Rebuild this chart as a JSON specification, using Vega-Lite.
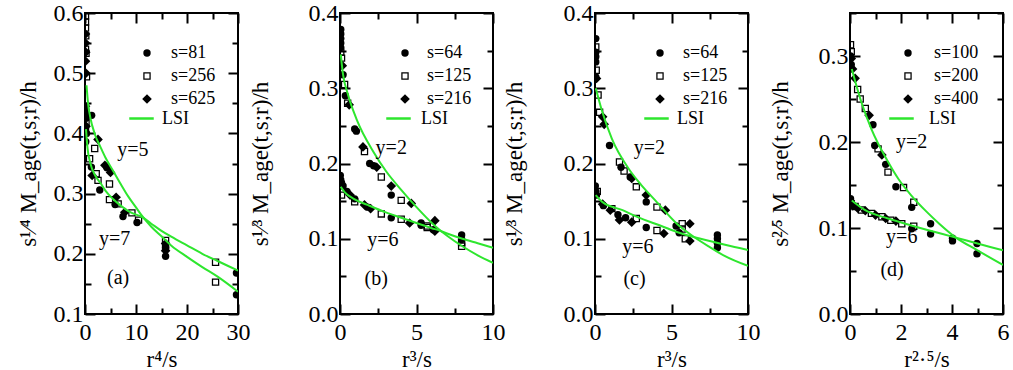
{
"$schema":"https://vega.github.io/schema/vega-lite/v6.json",
"background":"white",
"padding":{"left":16,"top":0,"right":0,"bottom":0},
"spacing":102,
"bounds":"flush",
"config":{
 "view":{"stroke":"black","strokeWidth":2},
 "style":{"guide-label":{"font":"Liberation Serif"},"guide-title":{"font":"Liberation Serif"}},
 "axis":{"labelFont":"Liberation Serif","titleFont":"Liberation Serif","labelFontSize":24,"titleFontSize":23,"titleFontWeight":"normal","labelColor":"black","titleColor":"black","tickColor":"black","tickWidth":2,"domain":false,"grid":false,"labelOverlap":false,"labelFlush":false},
 "legend":{"labelFont":"Liberation Serif","labelFontSize":18,"labelColor":"black","padding":0,"rowPadding":5,"title":null}
},
"datasets":{
 "pa":[
  {"x":0.1,"y":0.595,"s":"s=256"},{"x":0.1,"y":0.585,"s":"s=256"},{"x":0.1,"y":0.575,"s":"s=256"},{"x":0.15,"y":0.562,"s":"s=256"},{"x":0.1,"y":0.54,"s":"s=256"},{"x":0.2,"y":0.533,"s":"s=256"},{"x":0.3,"y":0.494,"s":"s=256"},{"x":0.1,"y":0.435,"s":"s=256"},{"x":0.2,"y":0.418,"s":"s=256"},{"x":0.1,"y":0.405,"s":"s=256"},{"x":0.9,"y":0.358,"s":"s=256"},{"x":1.9,"y":0.375,"s":"s=256"},{"x":2.2,"y":0.333,"s":"s=256"},{"x":2.55,"y":0.322,"s":"s=256"},{"x":4.8,"y":0.316,"s":"s=256"},{"x":4.8,"y":0.29,"s":"s=256"},{"x":6.5,"y":0.283,"s":"s=256"},{"x":9.2,"y":0.268,"s":"s=256"},{"x":10.5,"y":0.256,"s":"s=256"},{"x":15.8,"y":0.222,"s":"s=256"},{"x":15.8,"y":0.213,"s":"s=256"},{"x":25.6,"y":0.186,"s":"s=256"},{"x":25.6,"y":0.153,"s":"s=256"},
  {"x":0.1,"y":0.44,"s":"s=81"},{"x":0.2,"y":0.425,"s":"s=81"},{"x":0.1,"y":0.41,"s":"s=81"},{"x":0.3,"y":0.4,"s":"s=81"},{"x":0.15,"y":0.386,"s":"s=81"},{"x":1.3,"y":0.43,"s":"s=81"},{"x":1.25,"y":0.344,"s":"s=81"},{"x":2.9,"y":0.306,"s":"s=81"},{"x":4.3,"y":0.343,"s":"s=81"},{"x":5.9,"y":0.282,"s":"s=81"},{"x":7.45,"y":0.262,"s":"s=81"},{"x":10.2,"y":0.252,"s":"s=81"},{"x":15.8,"y":0.196,"s":"s=81"},{"x":15.8,"y":0.21,"s":"s=81"},{"x":29.7,"y":0.168,"s":"s=81"},{"x":29.7,"y":0.132,"s":"s=81"},
  {"x":0.1,"y":0.565,"s":"s=625"},{"x":0.1,"y":0.55,"s":"s=625"},{"x":0.15,"y":0.535,"s":"s=625"},{"x":0.1,"y":0.52,"s":"s=625"},{"x":0.2,"y":0.5,"s":"s=625"},{"x":0.1,"y":0.445,"s":"s=625"},{"x":0.25,"y":0.43,"s":"s=625"},{"x":0.2,"y":0.412,"s":"s=625"},{"x":2.55,"y":0.39,"s":"s=625"},{"x":1.4,"y":0.33,"s":"s=625"},{"x":3.9,"y":0.347,"s":"s=625"},{"x":5.0,"y":0.335,"s":"s=625"},{"x":6.1,"y":0.294,"s":"s=625"},{"x":7.8,"y":0.269,"s":"s=625"},{"x":15.8,"y":0.217,"s":"s=625"},{"x":15.8,"y":0.205,"s":"s=625"}
 ],
 "ca":[
  {"c":"y5","x":0.3,"y":0.48},{"c":"y5","x":0.6,"y":0.45},{"c":"y5","x":1,"y":0.428},{"c":"y5","x":2,"y":0.397},{"c":"y5","x":3,"y":0.378},{"c":"y5","x":4,"y":0.36},{"c":"y5","x":5.5,"y":0.338},{"c":"y5","x":7,"y":0.316},{"c":"y5","x":8.5,"y":0.295},{"c":"y5","x":10,"y":0.277},{"c":"y5","x":11,"y":0.265},{"c":"y5","x":13,"y":0.245},{"c":"y5","x":15,"y":0.229},{"c":"y5","x":17,"y":0.213},{"c":"y5","x":20,"y":0.195},{"c":"y5","x":23,"y":0.178},{"c":"y5","x":26,"y":0.162},{"c":"y5","x":30,"y":0.137},
  {"c":"y7","x":0.2,"y":0.407},{"c":"y7","x":0.5,"y":0.375},{"c":"y7","x":1,"y":0.352},{"c":"y7","x":2,"y":0.33},{"c":"y7","x":3,"y":0.318},{"c":"y7","x":4,"y":0.305},{"c":"y7","x":5.5,"y":0.291},{"c":"y7","x":7,"y":0.28},{"c":"y7","x":8.5,"y":0.271},{"c":"y7","x":10,"y":0.265},{"c":"y7","x":11,"y":0.262},{"c":"y7","x":13,"y":0.25},{"c":"y7","x":15,"y":0.238},{"c":"y7","x":17,"y":0.228},{"c":"y7","x":20,"y":0.214},{"c":"y7","x":23,"y":0.2},{"c":"y7","x":26,"y":0.188},{"c":"y7","x":30,"y":0.172}
 ],
 "ta":[{"x":9.4,"y":0.372,"t":"y=5"},{"x":5.8,"y":0.225,"t":"y=7"},{"x":6.5,"y":0.159,"t":"(a)"}],
 "pb":[
  {"x":0.05,"y":0.348,"s":"s=125"},{"x":0.1,"y":0.34,"s":"s=125"},{"x":0.3,"y":0.305,"s":"s=125"},{"x":0.5,"y":0.28,"s":"s=125"},{"x":1.6,"y":0.216,"s":"s=125"},{"x":2.7,"y":0.182,"s":"s=125"},{"x":4.0,"y":0.151,"s":"s=125"},{"x":5.7,"y":0.117,"s":"s=125"},{"x":7.95,"y":0.095,"s":"s=125"},{"x":7.95,"y":0.09,"s":"s=125"},{"x":0.1,"y":0.158,"s":"s=125"},{"x":0.96,"y":0.149,"s":"s=125"},{"x":2.7,"y":0.133,"s":"s=125"},{"x":4.0,"y":0.126,"s":"s=125"},{"x":5.7,"y":0.115,"s":"s=125"},
  {"x":0.05,"y":0.378,"s":"s=64"},{"x":0.05,"y":0.372,"s":"s=64"},{"x":0.05,"y":0.366,"s":"s=64"},{"x":0.05,"y":0.36,"s":"s=64"},{"x":0.05,"y":0.354,"s":"s=64"},{"x":0.2,"y":0.318,"s":"s=64"},{"x":0.35,"y":0.29,"s":"s=64"},{"x":0.96,"y":0.246,"s":"s=64"},{"x":1.07,"y":0.243,"s":"s=64"},{"x":1.94,"y":0.2,"s":"s=64"},{"x":2.2,"y":0.197,"s":"s=64"},{"x":3.35,"y":0.158,"s":"s=64"},{"x":5.3,"y":0.121,"s":"s=64"},{"x":6.1,"y":0.112,"s":"s=64"},{"x":7.95,"y":0.105,"s":"s=64"},{"x":7.95,"y":0.099,"s":"s=64"},{"x":0.02,"y":0.184,"s":"s=64"},{"x":0.05,"y":0.178,"s":"s=64"},{"x":0.1,"y":0.174,"s":"s=64"},{"x":0.2,"y":0.17,"s":"s=64"},{"x":0.45,"y":0.163,"s":"s=64"},{"x":0.96,"y":0.153,"s":"s=64"},{"x":1.8,"y":0.142,"s":"s=64"},{"x":3.35,"y":0.128,"s":"s=64"},{"x":5.3,"y":0.118,"s":"s=64"},
  {"x":0.15,"y":0.33,"s":"s=216"},{"x":0.6,"y":0.278,"s":"s=216"},{"x":1.5,"y":0.222,"s":"s=216"},{"x":2.4,"y":0.195,"s":"s=216"},{"x":3.35,"y":0.17,"s":"s=216"},{"x":4.66,"y":0.147,"s":"s=216"},{"x":6.2,"y":0.124,"s":"s=216"},{"x":0.66,"y":0.158,"s":"s=216"},{"x":1.6,"y":0.145,"s":"s=216"},{"x":2.0,"y":0.14,"s":"s=216"},{"x":4.55,"y":0.121,"s":"s=216"},{"x":6.2,"y":0.11,"s":"s=216"}
 ],
 "cb":[
  {"c":"y2","x":0.05,"y":0.345},{"c":"y2","x":0.2,"y":0.318},{"c":"y2","x":0.5,"y":0.293},{"c":"y2","x":1.1,"y":0.258},{"c":"y2","x":2.2,"y":0.215},{"c":"y2","x":3,"y":0.19},{"c":"y2","x":4,"y":0.165},{"c":"y2","x":5,"y":0.142},{"c":"y2","x":6,"y":0.121},{"c":"y2","x":6.5,"y":0.112},{"c":"y2","x":7,"y":0.104},{"c":"y2","x":8,"y":0.09},{"c":"y2","x":9,"y":0.078},{"c":"y2","x":10,"y":0.068},
  {"c":"y6","x":0.05,"y":0.169},{"c":"y6","x":0.3,"y":0.162},{"c":"y6","x":0.9,"y":0.153},{"c":"y6","x":1.8,"y":0.145},{"c":"y6","x":3,"y":0.135},{"c":"y6","x":4,"y":0.128},{"c":"y6","x":5,"y":0.121},{"c":"y6","x":6,"y":0.114},{"c":"y6","x":6.5,"y":0.111},{"c":"y6","x":7,"y":0.107},{"c":"y6","x":8,"y":0.1},{"c":"y6","x":9,"y":0.094},{"c":"y6","x":10,"y":0.088}
 ],
 "tb":[{"x":3.35,"y":0.22,"t":"y=2"},{"x":2.8,"y":0.098,"t":"y=6"},{"x":2.37,"y":0.047,"t":"(b)"}],
 "pc":[
  {"x":0.05,"y":0.355,"s":"s=125"},{"x":0.08,"y":0.324,"s":"s=125"},{"x":0.2,"y":0.291,"s":"s=125"},{"x":0.3,"y":0.268,"s":"s=125"},{"x":1.6,"y":0.202,"s":"s=125"},{"x":1.9,"y":0.19,"s":"s=125"},{"x":2.7,"y":0.169,"s":"s=125"},{"x":4.05,"y":0.142,"s":"s=125"},{"x":5.7,"y":0.12,"s":"s=125"},{"x":5.9,"y":0.1,"s":"s=125"},{"x":0.15,"y":0.163,"s":"s=125"},{"x":1.1,"y":0.14,"s":"s=125"},{"x":2.7,"y":0.127,"s":"s=125"},{"x":4.05,"y":0.111,"s":"s=125"},{"x":5.7,"y":0.113,"s":"s=125"},
  {"x":0.05,"y":0.366,"s":"s=64"},{"x":0.05,"y":0.348,"s":"s=64"},{"x":0.05,"y":0.342,"s":"s=64"},{"x":0.05,"y":0.335,"s":"s=64"},{"x":0.05,"y":0.315,"s":"s=64"},{"x":0.95,"y":0.224,"s":"s=64"},{"x":1.7,"y":0.195,"s":"s=64"},{"x":2.3,"y":0.182,"s":"s=64"},{"x":3.35,"y":0.149,"s":"s=64"},{"x":5.3,"y":0.117,"s":"s=64"},{"x":5.5,"y":0.108,"s":"s=64"},{"x":8.0,"y":0.105,"s":"s=64"},{"x":8.0,"y":0.1,"s":"s=64"},{"x":8.0,"y":0.094,"s":"s=64"},{"x":8.0,"y":0.088,"s":"s=64"},{"x":0.02,"y":0.17,"s":"s=64"},{"x":0.05,"y":0.163,"s":"s=64"},{"x":0.1,"y":0.158,"s":"s=64"},{"x":0.55,"y":0.144,"s":"s=64"},{"x":1.5,"y":0.132,"s":"s=64"},{"x":2.0,"y":0.128,"s":"s=64"},{"x":3.35,"y":0.115,"s":"s=64"},
  {"x":0.1,"y":0.313,"s":"s=216"},{"x":0.5,"y":0.262,"s":"s=216"},{"x":0.6,"y":0.252,"s":"s=216"},{"x":2.4,"y":0.18,"s":"s=216"},{"x":3.35,"y":0.158,"s":"s=216"},{"x":4.6,"y":0.138,"s":"s=216"},{"x":6.2,"y":0.12,"s":"s=216"},{"x":0.5,"y":0.146,"s":"s=216"},{"x":1.0,"y":0.138,"s":"s=216"},{"x":1.6,"y":0.125,"s":"s=216"},{"x":2.4,"y":0.122,"s":"s=216"},{"x":4.5,"y":0.107,"s":"s=216"},{"x":6.2,"y":0.097,"s":"s=216"}
 ],
 "cc":[
  {"c":"y2","x":0.05,"y":0.3},{"c":"y2","x":0.47,"y":0.269},{"c":"y2","x":1.1,"y":0.233},{"c":"y2","x":2.2,"y":0.193},{"c":"y2","x":3,"y":0.172},{"c":"y2","x":3.94,"y":0.151},{"c":"y2","x":5.35,"y":0.12},{"c":"y2","x":6.5,"y":0.102},{"c":"y2","x":7.5,"y":0.089},{"c":"y2","x":8.5,"y":0.077},{"c":"y2","x":10,"y":0.064},
  {"c":"y6","x":0.05,"y":0.158},{"c":"y6","x":0.47,"y":0.149},{"c":"y6","x":1.8,"y":0.138},{"c":"y6","x":3,"y":0.127},{"c":"y6","x":3.94,"y":0.12},{"c":"y6","x":5.35,"y":0.109},{"c":"y6","x":6.5,"y":0.102},{"c":"y6","x":7.5,"y":0.097},{"c":"y6","x":8.5,"y":0.092},{"c":"y6","x":10,"y":0.085}
 ],
 "tc":[{"x":3.55,"y":0.22,"t":"y=2"},{"x":2.8,"y":0.089,"t":"y=6"},{"x":2.58,"y":0.047,"t":"(c)"}],
 "pd":[
  {"x":0.02,"y":0.313,"s":"s=200"},{"x":0.05,"y":0.305,"s":"s=200"},{"x":0.3,"y":0.261,"s":"s=200"},{"x":0.4,"y":0.25,"s":"s=200"},{"x":0.6,"y":0.239,"s":"s=200"},{"x":1.1,"y":0.192,"s":"s=200"},{"x":1.49,"y":0.165,"s":"s=200"},{"x":2.1,"y":0.147,"s":"s=200"},{"x":2.5,"y":0.13,"s":"s=200"},{"x":0.05,"y":0.128,"s":"s=200"},{"x":0.2,"y":0.125,"s":"s=200"},{"x":0.45,"y":0.121,"s":"s=200"},{"x":0.84,"y":0.117,"s":"s=200"},{"x":1.25,"y":0.113,"s":"s=200"},{"x":1.6,"y":0.109,"s":"s=200"},{"x":2.03,"y":0.105,"s":"s=200"},{"x":2.5,"y":0.102,"s":"s=200"},
  {"x":0.02,"y":0.3,"s":"s=100"},{"x":0.05,"y":0.29,"s":"s=100"},{"x":0.9,"y":0.22,"s":"s=100"},{"x":0.97,"y":0.196,"s":"s=100"},{"x":1.4,"y":0.174,"s":"s=100"},{"x":1.8,"y":0.148,"s":"s=100"},{"x":2.42,"y":0.124,"s":"s=100"},{"x":3.16,"y":0.105,"s":"s=100"},{"x":4.02,"y":0.088,"s":"s=100"},{"x":4.98,"y":0.07,"s":"s=100"},{"x":0.02,"y":0.134,"s":"s=100"},{"x":0.05,"y":0.13,"s":"s=100"},{"x":0.1,"y":0.127,"s":"s=100"},{"x":2.42,"y":0.099,"s":"s=100"},{"x":3.16,"y":0.093,"s":"s=100"},{"x":4.02,"y":0.085,"s":"s=100"},{"x":4.98,"y":0.082,"s":"s=100"},
  {"x":0.05,"y":0.297,"s":"s=400"},{"x":0.1,"y":0.285,"s":"s=400"},{"x":0.2,"y":0.274,"s":"s=400"},{"x":0.75,"y":0.231,"s":"s=400"},{"x":1.25,"y":0.185,"s":"s=400"},{"x":0.1,"y":0.126,"s":"s=400"},{"x":0.3,"y":0.123,"s":"s=400"},{"x":0.6,"y":0.12,"s":"s=400"},{"x":1.0,"y":0.115,"s":"s=400"},{"x":1.4,"y":0.111,"s":"s=400"},{"x":1.8,"y":0.108,"s":"s=400"}
 ],
 "cd":[
  {"c":"y2","x":0.07,"y":0.285},{"c":"y2","x":0.45,"y":0.246},{"c":"y2","x":0.84,"y":0.215},{"c":"y2","x":1.49,"y":0.177},{"c":"y2","x":1.9,"y":0.157},{"c":"y2","x":2.4,"y":0.138},{"c":"y2","x":3,"y":0.119},{"c":"y2","x":3.5,"y":0.105},{"c":"y2","x":4.1,"y":0.09},{"c":"y2","x":5,"y":0.074},{"c":"y2","x":6,"y":0.057},
  {"c":"y6","x":0.07,"y":0.132},{"c":"y6","x":0.58,"y":0.121},{"c":"y6","x":1.49,"y":0.111},{"c":"y6","x":2.4,"y":0.103},{"c":"y6","x":3,"y":0.098},{"c":"y6","x":4,"y":0.09},{"c":"y6","x":5,"y":0.082},{"c":"y6","x":6,"y":0.074}
 ],
 "td":[{"x":2.42,"y":0.2,"t":"y=2"},{"x":2.03,"y":0.09,"t":"y=6"},{"x":1.65,"y":0.051,"t":"(d)"}]
},
"hconcat":[
 {"width":153,"height":301,
  "layer":[
   {"data":{"name":"pa"},
    "mark":{"type":"point","filled":true,"color":"black","size":55,"opacity":1,"clip":true},
    "encoding":{
     "x":{"field":"x","type":"quantitative","scale":{"domain":[0,30],"nice":false,"zero":false},
          "axis":{"orient":"bottom","values":[0,5,10,15,20,25,30],"labelExpr":"datum.value % 10 == 0 ? datum.label : ''","tickSize":{"condition":{"test":"datum.value % 10 == 0","value":-10},"value":-6},"labelPadding":16,"title":"r⁴/s","titlePadding":0,"labelFont":"Liberation Serif","titleFont":"Liberation Serif"}},
     "y":{"field":"y","type":"quantitative","scale":{"domain":[0.1,0.6],"nice":false,"zero":false},
          "axis":{"orient":"left","values":[0.1,0.15,0.2,0.25,0.3,0.35,0.4,0.45,0.5,0.55,0.6],"format":".1f","labelExpr":"abs(datum.value*10 - round(datum.value*10)) < 0.001 ? datum.label : ''","tickSize":{"condition":{"test":"abs(datum.value*10 - round(datum.value*10)) < 0.001","value":-10},"value":-6},"labelPadding":12,"title":"s¹⁄⁴ M_age(t,s;r)/h","titlePadding":13,"labelFont":"Liberation Serif","titleFont":"Liberation Serif"}},
     "shape":{"field":"s","type":"nominal","scale":{"domain":["s=81","s=256","s=625"],"range":["circle","M-1,-1H1V1H-1Z M-0.66,-0.66V0.66H0.66V-0.66Z","M-1.3,0L0,-1.3L1.3,0L0,1.3Z"]},"legend":{"orient":"none","legendX":53,"legendY":31,"labelOffset":15,"labelFont":"Liberation Serif","symbolFillColor":"black","symbolStrokeWidth":0,"symbolSize":55}}
    }},
   {"data":{"name":"ca"},
    "mark":{"type":"line","strokeWidth":2,"interpolate":"monotone","clip":true},
    "encoding":{
     "x":{"field":"x","type":"quantitative","scale":{"domain":[0,30],"nice":false,"zero":false},
          "axis":{"orient":"top","values":[0,5,10,15,20,25,30],"labels":false,"title":null,"tickSize":{"condition":{"test":"datum.value % 10 == 0","value":-10},"value":-6}}},
     "y":{"field":"y","type":"quantitative","scale":{"domain":[0.1,0.6],"nice":false,"zero":false},
          "axis":{"orient":"right","values":[0.1,0.15,0.2,0.25,0.3,0.35,0.4,0.45,0.5,0.55,0.6],"labels":false,"title":null,"tickSize":{"condition":{"test":"abs(datum.value*10 - round(datum.value*10)) < 0.001","value":-10},"value":-6}}},
     "detail":{"field":"c"},
     "color":{"datum":"LSI","type":"nominal","scale":{"range":["#2ee62e"]},"legend":{"orient":"none","legendX":43,"legendY":92,"symbolType":"stroke","symbolSize":600,"symbolStrokeWidth":2.5,"labelOffset":7,"labelFont":"Liberation Serif"}}
    }},
   {"data":{"name":"ta"},
    "mark":{"type":"text","font":"Liberation Serif","fontSize":20,"color":"black"},
    "encoding":{
     "x":{"field":"x","type":"quantitative","scale":{"domain":[0,30],"nice":false,"zero":false},"axis":null},
     "y":{"field":"y","type":"quantitative","scale":{"domain":[0.1,0.6],"nice":false,"zero":false},"axis":null},
     "text":{"field":"t"}
    }}
  ],
  "resolve":{"axis":{"x":"independent","y":"independent"}}
 },
 {"width":153,"height":301,
  "layer":[
   {"data":{"name":"pb"},
    "mark":{"type":"point","filled":true,"color":"black","size":55,"opacity":1,"clip":true},
    "encoding":{
     "x":{"field":"x","type":"quantitative","scale":{"domain":[0,10],"nice":false,"zero":false},
          "axis":{"orient":"bottom","values":[0,2.5,5,7.5,10],"labelExpr":"datum.value % 5 == 0 ? datum.label : ''","tickSize":{"condition":{"test":"datum.value % 5 == 0","value":-10},"value":-6},"labelPadding":16,"title":"r³/s","titlePadding":0,"labelFont":"Liberation Serif","titleFont":"Liberation Serif"}},
     "y":{"field":"y","type":"quantitative","scale":{"domain":[0,0.4],"nice":false,"zero":false},
          "axis":{"orient":"left","values":[0,0.05,0.1,0.15,0.2,0.25,0.3,0.35,0.4],"format":".1f","labelExpr":"abs(datum.value*10 - round(datum.value*10)) < 0.001 ? datum.label : ''","tickSize":{"condition":{"test":"abs(datum.value*10 - round(datum.value*10)) < 0.001","value":-10},"value":-6},"labelPadding":12,"title":"s¹⁄³ M_age(t,s;r)/h","titlePadding":36,"labelFont":"Liberation Serif","titleFont":"Liberation Serif"}},
     "shape":{"field":"s","type":"nominal","scale":{"domain":["s=64","s=125","s=216"],"range":["circle","M-1,-1H1V1H-1Z M-0.66,-0.66V0.66H0.66V-0.66Z","M-1.3,0L0,-1.3L1.3,0L0,1.3Z"]},"legend":{"orient":"none","legendX":56,"legendY":31,"labelOffset":13,"labelFont":"Liberation Serif","symbolFillColor":"black","symbolStrokeWidth":0,"symbolSize":55}}
    }},
   {"data":{"name":"cb"},
    "mark":{"type":"line","strokeWidth":2,"interpolate":"monotone","clip":true},
    "encoding":{
     "x":{"field":"x","type":"quantitative","scale":{"domain":[0,10],"nice":false,"zero":false},
          "axis":{"orient":"top","values":[0,2.5,5,7.5,10],"labels":false,"title":null,"tickSize":{"condition":{"test":"datum.value % 5 == 0","value":-10},"value":-6}}},
     "y":{"field":"y","type":"quantitative","scale":{"domain":[0,0.4],"nice":false,"zero":false},
          "axis":{"orient":"right","values":[0,0.05,0.1,0.15,0.2,0.25,0.3,0.35,0.4],"labels":false,"title":null,"tickSize":{"condition":{"test":"abs(datum.value*10 - round(datum.value*10)) < 0.001","value":-10},"value":-6}}},
     "detail":{"field":"c"},
     "color":{"datum":"LSI","type":"nominal","scale":{"range":["#2ee62e"]},"legend":{"orient":"none","legendX":45,"legendY":92,"symbolType":"stroke","symbolSize":600,"symbolStrokeWidth":2.5,"labelOffset":9,"labelFont":"Liberation Serif"}}
    }},
   {"data":{"name":"tb"},
    "mark":{"type":"text","font":"Liberation Serif","fontSize":20,"color":"black"},
    "encoding":{
     "x":{"field":"x","type":"quantitative","scale":{"domain":[0,10],"nice":false,"zero":false},"axis":null},
     "y":{"field":"y","type":"quantitative","scale":{"domain":[0,0.4],"nice":false,"zero":false},"axis":null},
     "text":{"field":"t"}
    }}
  ],
  "resolve":{"axis":{"x":"independent","y":"independent"}}
 },
 {"width":153,"height":301,
  "layer":[
   {"data":{"name":"pc"},
    "mark":{"type":"point","filled":true,"color":"black","size":55,"opacity":1,"clip":true},
    "encoding":{
     "x":{"field":"x","type":"quantitative","scale":{"domain":[0,10],"nice":false,"zero":false},
          "axis":{"orient":"bottom","values":[0,2.5,5,7.5,10],"labelExpr":"datum.value % 5 == 0 ? datum.label : ''","tickSize":{"condition":{"test":"datum.value % 5 == 0","value":-10},"value":-6},"labelPadding":16,"title":"r³/s","titlePadding":0,"labelFont":"Liberation Serif","titleFont":"Liberation Serif"}},
     "y":{"field":"y","type":"quantitative","scale":{"domain":[0,0.4],"nice":false,"zero":false},
          "axis":{"orient":"left","values":[0,0.05,0.1,0.15,0.2,0.25,0.3,0.35,0.4],"format":".1f","labelExpr":"abs(datum.value*10 - round(datum.value*10)) < 0.001 ? datum.label : ''","tickSize":{"condition":{"test":"abs(datum.value*10 - round(datum.value*10)) < 0.001","value":-10},"value":-6},"labelPadding":12,"title":"s¹⁄³ M_age(t,s;r)/h","titlePadding":37,"labelFont":"Liberation Serif","titleFont":"Liberation Serif"}},
     "shape":{"field":"s","type":"nominal","scale":{"domain":["s=64","s=125","s=216"],"range":["circle","M-1,-1H1V1H-1Z M-0.66,-0.66V0.66H0.66V-0.66Z","M-1.3,0L0,-1.3L1.3,0L0,1.3Z"]},"legend":{"orient":"none","legendX":56,"legendY":31,"labelOffset":14,"labelFont":"Liberation Serif","symbolFillColor":"black","symbolStrokeWidth":0,"symbolSize":55}}
    }},
   {"data":{"name":"cc"},
    "mark":{"type":"line","strokeWidth":2,"interpolate":"monotone","clip":true},
    "encoding":{
     "x":{"field":"x","type":"quantitative","scale":{"domain":[0,10],"nice":false,"zero":false},
          "axis":{"orient":"top","values":[0,2.5,5,7.5,10],"labels":false,"title":null,"tickSize":{"condition":{"test":"datum.value % 5 == 0","value":-10},"value":-6}}},
     "y":{"field":"y","type":"quantitative","scale":{"domain":[0,0.4],"nice":false,"zero":false},
          "axis":{"orient":"right","values":[0,0.05,0.1,0.15,0.2,0.25,0.3,0.35,0.4],"labels":false,"title":null,"tickSize":{"condition":{"test":"abs(datum.value*10 - round(datum.value*10)) < 0.001","value":-10},"value":-6}}},
     "detail":{"field":"c"},
     "color":{"datum":"LSI","type":"nominal","scale":{"range":["#2ee62e"]},"legend":{"orient":"none","legendX":48,"legendY":92,"symbolType":"stroke","symbolSize":600,"symbolStrokeWidth":2.5,"labelOffset":7,"labelFont":"Liberation Serif"}}
    }},
   {"data":{"name":"tc"},
    "mark":{"type":"text","font":"Liberation Serif","fontSize":20,"color":"black"},
    "encoding":{
     "x":{"field":"x","type":"quantitative","scale":{"domain":[0,10],"nice":false,"zero":false},"axis":null},
     "y":{"field":"y","type":"quantitative","scale":{"domain":[0,0.4],"nice":false,"zero":false},"axis":null},
     "text":{"field":"t"}
    }}
  ],
  "resolve":{"axis":{"x":"independent","y":"independent"}}
 },
 {"width":153,"height":301,
  "layer":[
   {"data":{"name":"pd"},
    "mark":{"type":"point","filled":true,"color":"black","size":55,"opacity":1,"clip":true},
    "encoding":{
     "x":{"field":"x","type":"quantitative","scale":{"domain":[0,6],"nice":false,"zero":false},
          "axis":{"orient":"bottom","values":[0,1,2,3,4,5,6],"labelExpr":"datum.value % 2 == 0 ? datum.label : ''","tickSize":{"condition":{"test":"datum.value % 2 == 0","value":-10},"value":-6},"labelPadding":16,"title":"r²·⁵/s","titlePadding":0,"labelFont":"Liberation Serif","titleFont":"Liberation Serif"}},
     "y":{"field":"y","type":"quantitative","scale":{"domain":[0,0.35],"nice":false,"zero":false},
          "axis":{"orient":"left","values":[0,0.05,0.1,0.15,0.2,0.25,0.3,0.35],"format":".1f","labelExpr":"abs(datum.value*10 - round(datum.value*10)) < 0.001 ? datum.label : ''","tickSize":{"condition":{"test":"abs(datum.value*10 - round(datum.value*10)) < 0.001","value":-10},"value":-6},"labelPadding":12,"title":"s²⁄⁵ M_age(t,s;r)/h","titlePadding":26,"labelFont":"Liberation Serif","titleFont":"Liberation Serif"}},
     "shape":{"field":"s","type":"nominal","scale":{"domain":["s=100","s=200","s=400"],"range":["circle","M-1,-1H1V1H-1Z M-0.66,-0.66V0.66H0.66V-0.66Z","M-1.3,0L0,-1.3L1.3,0L0,1.3Z"]},"legend":{"orient":"none","legendX":49,"legendY":31,"labelOffset":17,"labelFont":"Liberation Serif","symbolFillColor":"black","symbolStrokeWidth":0,"symbolSize":55}}
    }},
   {"data":{"name":"cd"},
    "mark":{"type":"line","strokeWidth":2,"interpolate":"monotone","clip":true},
    "encoding":{
     "x":{"field":"x","type":"quantitative","scale":{"domain":[0,6],"nice":false,"zero":false},
          "axis":{"orient":"top","values":[0,1,2,3,4,5,6],"labels":false,"title":null,"tickSize":{"condition":{"test":"datum.value % 2 == 0","value":-10},"value":-6}}},
     "y":{"field":"y","type":"quantitative","scale":{"domain":[0,0.35],"nice":false,"zero":false},
          "axis":{"orient":"right","values":[0,0.05,0.1,0.15,0.2,0.25,0.3,0.35],"labels":false,"title":null,"tickSize":{"condition":{"test":"abs(datum.value*10 - round(datum.value*10)) < 0.001","value":-10},"value":-6}}},
     "detail":{"field":"c"},
     "color":{"datum":"LSI","type":"nominal","scale":{"range":["#2ee62e"]},"legend":{"orient":"none","legendX":38,"legendY":92,"symbolType":"stroke","symbolSize":600,"symbolStrokeWidth":2.5,"labelOffset":14,"labelFont":"Liberation Serif"}}
    }},
   {"data":{"name":"td"},
    "mark":{"type":"text","font":"Liberation Serif","fontSize":20,"color":"black"},
    "encoding":{
     "x":{"field":"x","type":"quantitative","scale":{"domain":[0,6],"nice":false,"zero":false},"axis":null},
     "y":{"field":"y","type":"quantitative","scale":{"domain":[0,0.35],"nice":false,"zero":false},"axis":null},
     "text":{"field":"t"}
    }}
  ],
  "resolve":{"axis":{"x":"independent","y":"independent"}}
 }
],
"resolve":{"scale":{"shape":"independent","color":"independent"},"legend":{"shape":"independent","color":"independent"}}
}
